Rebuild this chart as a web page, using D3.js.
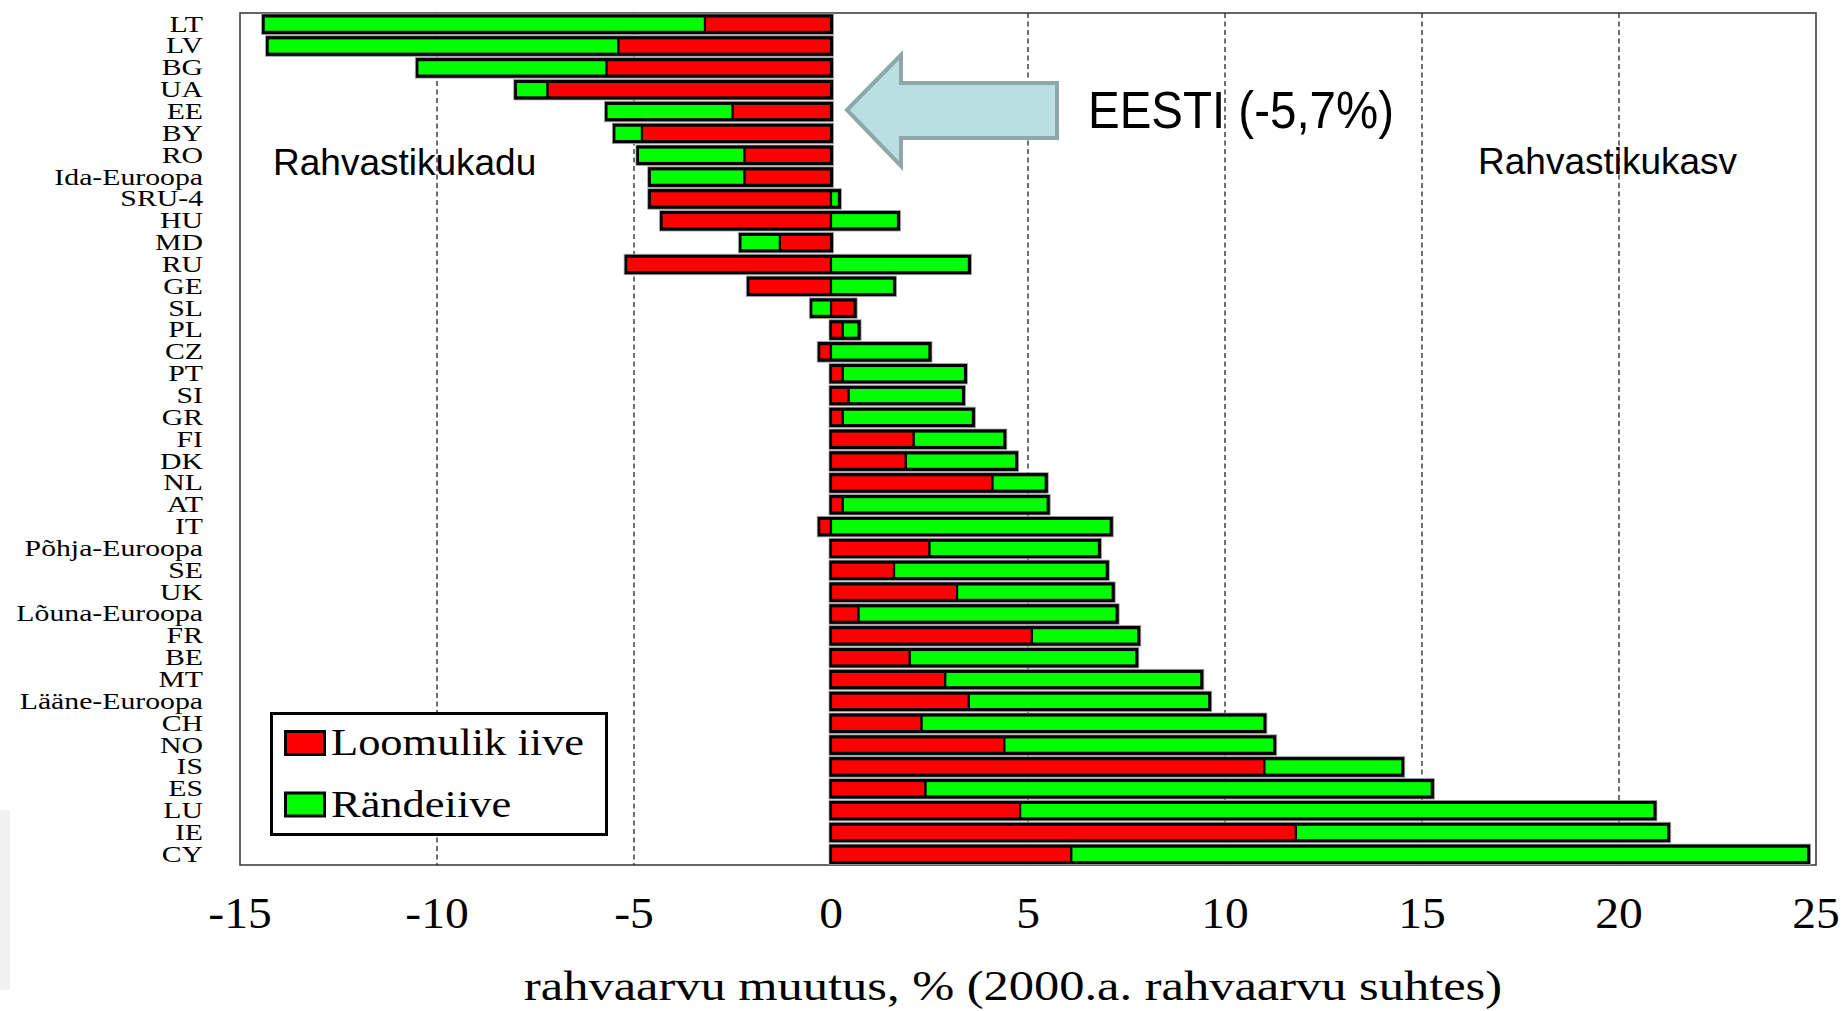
<!DOCTYPE html>
<html>
<head>
<meta charset="utf-8">
<script src="https://cdn.jsdelivr.net/npm/d3@7"></script>
<style>
  html, body { margin: 0; padding: 0; background: #ffffff; }
  svg { display: block; }
</style>
</head>
<body>
<svg id="chart" width="1841" height="1011"></svg>
<script>
// ---- data ----
const categories = ["LT","LV","BG","UA","EE","BY","RO","Ida-Euroopa","SRU-4","HU","MD","RU","GE","SL","PL","CZ","PT","SI","GR","FI","DK","NL","AT","IT","Põhja-Euroopa","SE","UK","Lõuna-Euroopa","FR","BE","MT","Lääne-Euroopa","CH","NO","IS","ES","LU","IE","CY"];
const natural   = [-3.2,-5.4,-5.7,-7.2,-2.5,-4.8,-2.2,-2.2,-4.6,-4.3,-1.3,-5.2,-2.1,0.6,0.3,-0.3,0.3,0.45,0.3,2.1,1.9,4.1,0.3,-0.3,2.5,1.6,3.2,0.7,5.1,2.0,2.9,3.5,2.3,4.4,11.0,2.4,4.8,11.8,6.1];
const migration = [-11.2,-8.9,-4.8,-0.8,-3.2,-0.7,-2.7,-2.4,0.2,1.7,-1.0,3.5,1.6,-0.5,0.4,2.5,3.1,2.9,3.3,2.3,2.8,1.35,5.2,7.1,4.3,5.4,3.95,6.55,2.7,5.75,6.5,6.1,8.7,6.85,3.5,12.85,16.1,9.45,18.7];
const seriesKeys   = ["natural","migration"];
const seriesNames  = ["Loomulik iive","Rändeiive"];
const xTickValues  = [-15,-10,-5,0,5,10,15,20,25];
const gridValues   = [-10,-5,5,10,15,20];
const axisTitle    = "rahvaarvu muutus, % (2000.a. rahvaarvu suhtes)";
const calloutText  = "EESTI (-5,7%)";
const leftNote     = "Rahvastikukadu";
const rightNote    = "Rahvastikukasv";

// ---- layout ----
const svg = d3.select("#chart");
const plot = {left: 240, right: 1816, top: 13, bottom: 865};
const colors = {natural: "#ff0000", migration: "#00ff00"};
const serif = "'Liberation Serif','Times New Roman',serif";
const sans  = "'Liberation Sans',Arial,sans-serif";

const x = d3.scaleLinear().domain([-15, 25]).range([plot.left, plot.right]);
const y = d3.scaleBand().domain(categories).range([plot.top, plot.bottom]).padding(0);

// faint slide artifact at the left edge
svg.append("rect").attr("x", 0).attr("y", 810).attr("width", 10).attr("height", 180).attr("fill", "#f1f1f1");

// gridlines
svg.append("g").selectAll("line").data(gridValues).join("line")
  .attr("x1", d => x(d)).attr("x2", d => x(d))
  .attr("y1", plot.top).attr("y2", plot.bottom)
  .attr("stroke", "#222").attr("stroke-width", 1.3)
  .attr("stroke-dasharray", "5,3.5");

// plot frame
svg.append("rect")
  .attr("x", plot.left).attr("y", plot.top)
  .attr("width", plot.right - plot.left).attr("height", plot.bottom - plot.top)
  .attr("fill", "none").attr("stroke", "#333").attr("stroke-width", 1.5);

// stacked (diverging) data
const rows = categories.map((c, i) => ({cat: c, natural: natural[i], migration: migration[i]}));
const stacked = d3.stack().keys(seriesKeys).offset(d3.stackOffsetDiverging)(rows);

// outer black frames for each bar
const extents = rows.map((r, i) => {
  const vals = [];
  stacked.forEach(s => { vals.push(s[i][0], s[i][1]); });
  return {cat: r.cat, lo: d3.min(vals), hi: d3.max(vals)};
});
const cy = c => y(c) + y.bandwidth() / 2;

svg.append("g").selectAll("rect").data(extents).join("rect")
  .attr("x", d => x(d.lo) - 2)
  .attr("width", d => x(d.hi) - x(d.lo) + 4.5)
  .attr("y", d => cy(d.cat) - 10)
  .attr("height", 20.5)
  .attr("fill", "#000")
  .attr("stroke", "#a8a8a8").attr("stroke-width", 0.8);

// colored segments
svg.append("g").selectAll("g").data(stacked).join("g")
  .attr("fill", s => colors[s.key])
  .selectAll("rect").data(s => s).join("rect")
  .attr("x", d => x(Math.min(d[0], d[1])))
  .attr("width", d => Math.abs(x(d[1]) - x(d[0])))
  .attr("y", d => cy(d.data.cat) - 7.5)
  .attr("height", 15.5)
  .attr("stroke", "#000").attr("stroke-width", 2.2);

// category axis (left)
const yAxis = svg.append("g").attr("transform", "translate(203,0)")
  .call(d3.axisLeft(y).tickSize(0).tickPadding(0));
yAxis.select(".domain").remove();
yAxis.selectAll("text")
  .attr("x", 0).attr("dy", "0.32em")
  .attr("text-anchor", "end")
  .attr("transform", "scale(1.24,1)")
  .style("font-family", serif).style("font-size", "24px").attr("fill", "#000");

// value axis (bottom)
const xAxis = svg.append("g").attr("transform", "translate(0,928)")
  .call(d3.axisBottom(x).tickValues(xTickValues).tickSize(0).tickFormat(d => String(d)));
xAxis.select(".domain").remove();
xAxis.selectAll("text")
  .attr("y", 0).attr("dy", 0)
  .attr("transform", "scale(1.08,1)")
  .style("font-family", serif).style("font-size", "44px").attr("fill", "#000");
xAxis.selectAll(".tick").attr("transform", d => `translate(${x(d)},0)`);

// axis title
svg.append("text")
  .attr("x", 1013).attr("y", 1000)
  .attr("text-anchor", "middle")
  .attr("textLength", 978).attr("lengthAdjust", "spacingAndGlyphs")
  .style("font-family", serif).style("font-size", "43px")
  .text(axisTitle);

// legend
const legend = svg.append("g");
legend.append("rect")
  .attr("x", 271.5).attr("y", 713.5).attr("width", 335).attr("height", 121)
  .attr("fill", "#fff").attr("stroke", "#000").attr("stroke-width", 3);
const legItems = legend.selectAll("g.item").data(seriesKeys).join("g").attr("class", "item")
  .attr("transform", (d, i) => `translate(0,${i * 61.5})`);
legItems.append("rect")
  .attr("x", 285.5).attr("y", 731.5).attr("width", 39).attr("height", 23)
  .attr("fill", d => colors[d]).attr("stroke", "#000").attr("stroke-width", 3);
legItems.append("text")
  .attr("transform", "translate(331,755) scale(1.17,1)")
  .style("font-family", serif).style("font-size", "38px")
  .text((d, i) => seriesNames[i]);

// annotation arrow
const ax = x(0) + 16; // arrow tip just right of zero line
const arrowPts = [[ax,110],[ax+54,55],[ax+54,83],[ax+210,83],[ax+210,138],[ax+54,138],[ax+54,166]];
svg.append("polygon")
  .attr("points", arrowPts.map(p => p.join(",")).join(" "))
  .attr("fill", "#b9dfe3").attr("stroke", "#8ea8aa").attr("stroke-width", 4)
  .attr("stroke-linejoin", "miter");

svg.append("text")
  .attr("x", 1088).attr("y", 128)
  .attr("textLength", 306).attr("lengthAdjust", "spacingAndGlyphs")
  .style("font-family", sans).style("font-size", "52px")
  .text(calloutText);

svg.append("text")
  .attr("x", 273).attr("y", 175)
  .style("font-family", sans).style("font-size", "37px")
  .text(leftNote);

svg.append("text")
  .attr("x", 1478).attr("y", 174)
  .style("font-family", sans).style("font-size", "37px")
  .text(rightNote);
</script>
</body>
</html>
